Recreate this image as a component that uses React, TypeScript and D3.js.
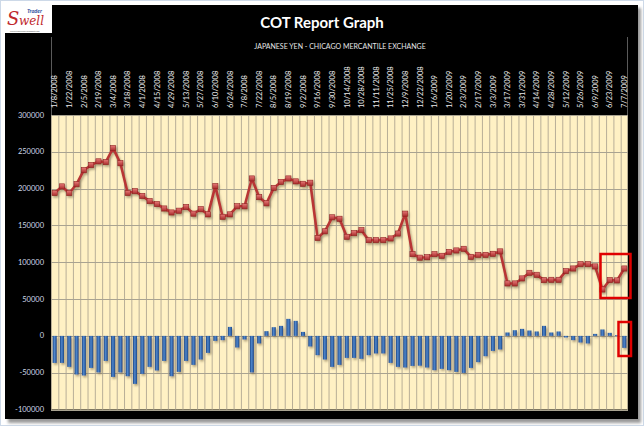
import React from 'react';
import * as d3 from 'd3';

const dates = [
  '1/8/2008', '1/15/2008', '1/22/2008', '1/29/2008', '2/5/2008', '2/12/2008', '2/19/2008', '2/26/2008',
  '3/4/2008', '3/11/2008', '3/18/2008', '3/25/2008', '4/1/2008', '4/8/2008', '4/15/2008', '4/22/2008',
  '4/29/2008', '5/6/2008', '5/13/2008', '5/20/2008', '5/27/2008', '6/3/2008', '6/10/2008', '6/17/2008',
  '6/24/2008', '7/1/2008', '7/8/2008', '7/15/2008', '7/22/2008', '7/29/2008', '8/5/2008', '8/12/2008',
  '8/19/2008', '8/26/2008', '9/2/2008', '9/9/2008', '9/16/2008', '9/23/2008', '9/30/2008', '10/7/2008',
  '10/14/2008', '10/21/2008', '10/28/2008', '11/4/2008', '11/11/2008', '11/18/2008', '11/25/2008', '12/2/2008',
  '12/9/2008', '12/16/2008', '12/22/2008', '12/30/2008', '1/6/2009', '1/13/2009', '1/20/2009', '1/27/2009',
  '2/3/2009', '2/10/2009', '2/17/2009', '2/24/2009', '3/3/2009', '3/10/2009', '3/17/2009', '3/24/2009',
  '3/31/2009', '4/7/2009', '4/14/2009', '4/21/2009', '4/28/2009', '5/5/2009', '5/12/2009', '5/19/2009',
  '5/26/2009', '6/2/2009', '6/9/2009', '6/16/2009', '6/23/2009', '6/30/2009', '7/7/2009',
];

const openInterest = [
  194000, 203000, 194000, 206000, 225000, 232000, 237000, 236000,
  255000, 234500, 194000, 196500, 190000, 183000, 179000, 173000,
  167600, 170000, 175000, 166000, 172000, 165000, 203400, 161700,
  165000, 176000, 176000, 213800, 188400, 180000, 201000, 209000,
  213800, 209800, 206500, 208000, 133000, 142000, 161000, 159000,
  134500, 139500, 143600, 130000, 130000, 130000, 132300, 139000,
  166000, 111000, 106200, 106800, 111000, 108700, 114000, 116000,
  118200, 107300, 110000, 110000, 111400, 114700, 71200, 71200,
  78000, 85600, 82900, 75700, 76100, 76100, 87900, 91500,
  97400, 97400, 94300, 63000, 75700, 75300, 91500,
];

const netPosition = [
  -36700, -36700, -42100, -52400, -53800, -43500, -49700, -34000,
  -55700, -49700, -54800, -65200, -51600, -42100, -47000, -34000,
  -54800, -48900, -34000, -39400, -32100, -23100, -6800, -5800,
  12200, -15800, -4900, -49700, -10300, 6400, 11800, 13600,
  23100, 20400, 5400, -14400, -26200, -32100, -42100, -39400,
  -29900, -29900, -31200, -26200, -23900, -23900, -36700, -42100,
  -43000, -40800, -40500, -43000, -46600, -44800, -46600, -48900,
  -50300, -43500, -35700, -27600, -20400, -18500, 4600, 7700,
  9500, 7300, 6000, 13600, 4600, 6000, -2200, -5800,
  -9000, -10300, 2700, 8700, 4100, 1000, -16300,
];

const yTicks = [-100000, -50000, 0, 50000, 100000, 150000, 200000, 250000, 300000];

const title = 'COT Report Graph';
const subtitle = 'JAPANESE YEN - CHICAGO MERCANTILE EXCHANGE';

export default function App() {
  const W = 644;
  const H = 426;
  const plot = { left: 51, right: 628, top: 115, bottom: 409.5 };
  const font = 'Lato, "Open Sans", "DejaVu Sans", sans-serif';

  const x = d3.scaleBand<string>().domain(dates).range([plot.left, plot.right]).padding(0);
  const y = d3.scaleLinear().domain([-100000, 300000]).range([plot.bottom, plot.top]);
  const bw = x.bandwidth();
  const cx = (i: number) => (x(dates[i]) as number) + bw / 2;

  const linePath = d3
    .line<number>()
    .x((_, i) => cx(i))
    .y((d) => y(d))(openInterest) as string;

  const barW = bw * 0.56;

  return (
    <svg
      width={W}
      height={H}
      style={{ position: 'absolute', left: 0, top: 0, display: 'block', background: '#ffffff' }}
    >
      <defs>
        <linearGradient id="barGrad" x1="0" x2="1" y1="0" y2="0">
          <stop offset="0%" stopColor="#1a4584" />
          <stop offset="45%" stopColor="#4f86cc" />
          <stop offset="100%" stopColor="#1b4888" />
        </linearGradient>
        <linearGradient id="markGrad" x1="0" x2="0" y1="0" y2="1">
          <stop offset="0%" stopColor="#e77a78" />
          <stop offset="100%" stopColor="#a82b2b" />
        </linearGradient>
        <filter id="shadow" x="-10%" y="-10%" width="120%" height="130%">
          <feDropShadow dx="1.2" dy="1.8" stdDeviation="0.9" floodColor="#6b5a3a" floodOpacity="0.55" />
        </filter>
        <filter id="outerShadow" x="-5%" y="-5%" width="110%" height="110%">
          <feGaussianBlur stdDeviation="1.5" />
        </filter>
      </defs>

      {/* outer frame */}
      <rect x={0.5} y={0.5} width={W - 1} height={H - 1} fill="#ffffff" stroke="#cdd9e8" />
      <rect x={8} y={8} width={633} height={415} fill="#9a9a9a" filter="url(#outerShadow)" />
      <rect x={5} y={5} width={633} height={414} fill="#000000" />

      {/* logo */}
      <rect x={5} y={5} width={47} height={28} fill="#ffffff" />
      <text x={7} y={25} fontFamily='"DejaVu Serif", serif' fontStyle="italic" fontSize={18} fill="#c0282d">
        S
      </text>
      <text x={19} y={25} fontFamily='"DejaVu Serif", serif' fontStyle="italic" fontSize={12} fill="#c0282d">
        well
      </text>
      <text x={27} y={13} fontFamily={font} fontStyle="italic" fontWeight="bold" fontSize={5.5} fill="#2a4f9e">
        Trader
      </text>
      <text x={10} y={32} fontFamily={font} fontSize={2.2} fill="#555">
        www.traderswell.blogspot.com
      </text>

      {/* titles */}
      <text x={322} y={28} textAnchor="middle" fontFamily={font} fontWeight="bold" fontSize={15} fill="#ffffff">
        {title}
      </text>
      <text x={340} y={49} textAnchor="middle" fontFamily={font} fontSize={7} fill="#e6e6e6">
        {subtitle}
      </text>

      {/* frame lines above plot */}
      <line x1={plot.left + 0.5} x2={plot.left + 0.5} y1={37} y2={plot.top} stroke="#5a5a5a" />
      <line x1={plot.right - 0.5} x2={plot.right - 0.5} y1={37} y2={plot.top} stroke="#5a5a5a" />

      {/* plot background */}
      <rect
        x={plot.left}
        y={plot.top}
        width={plot.right - plot.left}
        height={plot.bottom - plot.top}
        fill="#fff1c4"
      />

      {/* vertical gridlines */}
      {dates.map((d, i) => (
        <line
          key={'v' + i}
          x1={(x(d) as number) + 0.5}
          x2={(x(d) as number) + 0.5}
          y1={plot.top}
          y2={plot.bottom}
          stroke="#b8ae97"
          strokeWidth={1}
        />
      ))}
      <line x1={plot.right - 0.5} x2={plot.right - 0.5} y1={plot.top} y2={plot.bottom} stroke="#b8ae97" />

      {/* horizontal gridlines */}
      {yTicks.map((t) => (
        <line
          key={'h' + t}
          x1={plot.left}
          x2={plot.right}
          y1={Math.round(y(t)) + 0.5}
          y2={Math.round(y(t)) + 0.5}
          stroke="#a9a391"
          strokeWidth={1}
        />
      ))}

      {/* y labels */}
      {yTicks.map((t) => (
        <text
          key={'yl' + t}
          x={44}
          y={y(t) + 2.6}
          textAnchor="end"
          fontFamily={font}
          fontSize={7.5}
          fill="#cfd8e8"
        >
          {t}
        </text>
      ))}

      {/* x labels */}
      {dates.map((d, i) =>
        i % 2 === 0 ? (
          <text
            key={'xl' + i}
            transform={`translate(${cx(i) + 2.7},108) rotate(-90)`}
            textAnchor="start"
            fontFamily={font}
            fontSize={7.5}
            fill="#ececec"
          >
            {d}
          </text>
        ) : null
      )}

      {/* bars */}
      <g filter="url(#shadow)">
        {netPosition.map((v, i) => {
          const y0 = y(0);
          const yv = y(v);
          return (
            <rect
              key={'b' + i}
              x={cx(i) - barW / 2}
              y={Math.min(y0, yv)}
              width={barW}
              height={Math.max(0.8, Math.abs(yv - y0))}
              fill="url(#barGrad)"
            />
          );
        })}
      </g>

      {/* line */}
      <g filter="url(#shadow)">
        <path d={linePath} fill="none" stroke="#b83535" strokeWidth={2.6} strokeLinejoin="round" />
        {openInterest.map((v, i) => (
          <rect
            key={'m' + i}
            x={cx(i) - 2.6}
            y={y(v) - 2.6}
            width={5.2}
            height={5.2}
            fill="url(#markGrad)"
            stroke="#8e2222"
            strokeWidth={0.6}
          />
        ))}
      </g>

      {/* annotation boxes */}
      <rect x={600.5} y={254} width={30} height={44} fill="none" stroke="#e00000" strokeWidth={2.5} />
      <rect x={618.5} y={322} width={12.5} height={34} fill="none" stroke="#e00000" strokeWidth={2.5} />
    </svg>
  );
}
